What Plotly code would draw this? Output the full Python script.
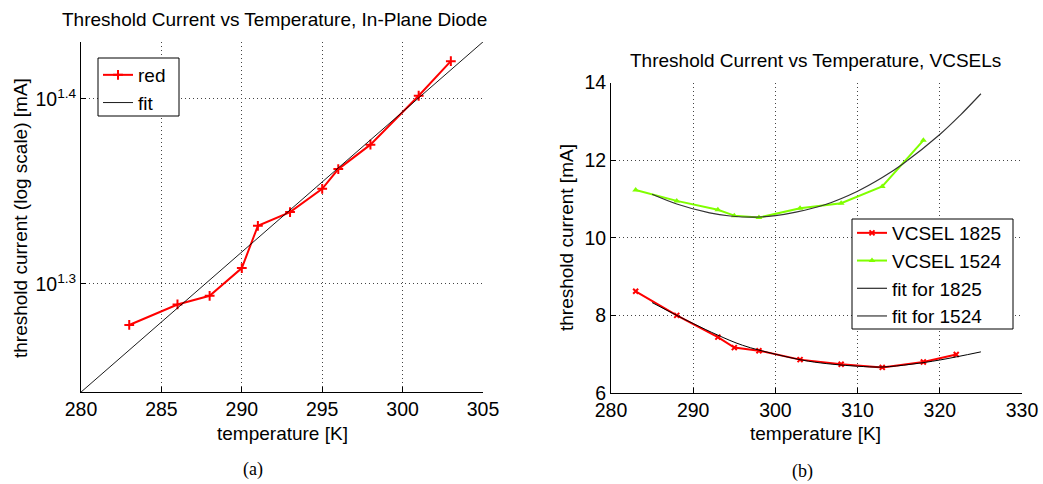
import plotly.graph_objects as go

W, H = 1043, 484

# ---------------- data: panel (a) ----------------
temp_a = [283, 286, 288, 290, 291, 293, 295, 296, 298, 301, 303]
current_a = [18.96, 19.45, 19.66, 20.35, 21.45, 21.82, 22.46, 23.02, 23.73, 25.22, 26.33]
fit_temp_a = [280, 305]
fit_current_a = [17.44, 26.97]
ytick_vals_a = [19.953, 25.119]
ytick_text_a = ["10<sup>1.3</sup>", "10<sup>1.4</sup>"]
xtick_vals_a = [280, 285, 290, 295, 300, 305]

# ---------------- data: panel (b) ----------------
temp_1825 = [283, 288, 293, 295, 298, 303, 308, 313, 318, 322]
current_1825 = [8.62, 8.0, 7.44, 7.17, 7.09, 6.86, 6.74, 6.66, 6.80, 6.99]
temp_1524 = [283, 288, 293, 295, 298, 303, 308, 313, 318]
current_1524 = [11.23, 10.95, 10.72, 10.57, 10.52, 10.76, 10.89, 11.32, 12.51]
fit_temp_1825 = [285, 288, 290, 293, 296, 300, 304, 307, 310, 313, 316.5, 320, 325]
fit_current_1825 = [8.33, 8.0, 7.79, 7.49, 7.23, 7.0, 6.82, 6.74, 6.69, 6.67, 6.74, 6.85, 7.06]
fit_temp_1524 = [285, 288, 292, 294.5, 297.5, 300, 302.5, 306, 310, 313, 315.5, 320, 322.5, 325]
fit_current_1524 = [11.12, 10.87, 10.64, 10.56, 10.53, 10.57, 10.66, 10.85, 11.20, 11.55, 11.90, 12.66, 13.16, 13.71]
xtick_vals_b = [280, 290, 300, 310, 320, 330]
ytick_vals_b = [6, 8, 10, 12, 14]

FONT = "Liberation Sans, Arial, Helvetica, sans-serif"
SERIF = "Liberation Serif, DejaVu Serif, serif"
FS_TICK = 19.5
FS = 19
RED = "#ff0000"
GREEN = "#80ff00"


def px(x):
    return x / W


def py(y):
    return 1 - y / H


fig = go.Figure()

# panel (a)
fig.add_trace(go.Scatter(
    x=temp_a, y=current_a, name="red", mode="lines+markers",
    line=dict(color=RED, width=2),
    marker=dict(symbol="cross-thin", size=7, color=RED, line=dict(color=RED, width=2)),
    xaxis="x", yaxis="y", legend="legend"))
fig.add_trace(go.Scatter(
    x=fit_temp_a, y=fit_current_a, name="fit", mode="lines",
    line=dict(color="#000000", width=0.9),
    xaxis="x", yaxis="y", legend="legend"))

# panel (b)
fig.add_trace(go.Scatter(
    x=temp_1825, y=current_1825, name="VCSEL 1825", mode="lines+markers",
    line=dict(color=RED, width=2),
    marker=dict(symbol="x-thin", size=5, color=RED, line=dict(color=RED, width=2)),
    xaxis="x2", yaxis="y2", legend="legend2"))
fig.add_trace(go.Scatter(
    x=temp_1524, y=current_1524, name="VCSEL 1524", mode="lines+markers",
    line=dict(color=GREEN, width=2),
    marker=dict(symbol="triangle-up", size=6, color=GREEN),
    xaxis="x2", yaxis="y2", legend="legend2"))
fig.add_trace(go.Scatter(
    x=fit_temp_1825, y=fit_current_1825, name="fit for 1825", mode="lines",
    line=dict(color="#000000", width=1, shape="spline"),
    xaxis="x2", yaxis="y2", legend="legend2"))
fig.add_trace(go.Scatter(
    x=fit_temp_1524, y=fit_current_1524, name="fit for 1524", mode="lines",
    line=dict(color="#333333", width=1.2, shape="spline"),
    xaxis="x2", yaxis="y2", legend="legend2"))

axis_common = dict(
    showline=True, linecolor="#000000", linewidth=1,
    ticks="inside", ticklen=5, tickcolor="#000000", tickwidth=1,
    showgrid=True, gridcolor="#444444", gridwidth=1, griddash="1px,3px",
    zeroline=False, tickfont=dict(family=FONT, size=FS_TICK, color="#000000"),
    mirror=False, automargin=False,
)

fig.update_layout(
    width=W, height=H,
    margin=dict(l=0, r=0, t=0, b=0, pad=0, autoexpand=False),
    paper_bgcolor="white", plot_bgcolor="white",
    font=dict(family=FONT, size=FS, color="#000000"),
    xaxis=dict(domain=[px(81), px(483)], range=[280, 305], tickmode="array",
               tickvals=xtick_vals_a, anchor="y", **axis_common),
    yaxis=dict(domain=[py(392), py(42)], type="log", range=[1.2416, 1.4308],
               tickmode="array", tickvals=ytick_vals_a, ticktext=ytick_text_a,
               anchor="x", **axis_common),
    xaxis2=dict(domain=[px(611), px(1022)], range=[280, 330], tickmode="array",
                tickvals=xtick_vals_b, anchor="y2", **axis_common),
    yaxis2=dict(domain=[py(393), py(82.5)], range=[6, 14], tickmode="array",
                tickvals=ytick_vals_b, anchor="x2", **axis_common),
    legend=dict(x=px(98), y=py(56), xanchor="left", yanchor="top",
                bgcolor="rgba(0,0,0,0)", borderwidth=0,
                font=dict(family=FONT, size=19, color="#000000"),
                itemwidth=30, tracegroupgap=0),
    legend2=dict(x=px(852), y=py(214), xanchor="left", yanchor="top",
                 bgcolor="rgba(0,0,0,0)", borderwidth=0,
                 font=dict(family=FONT, size=19, color="#000000"),
                 itemwidth=30, tracegroupgap=0),
    showlegend=True,
    shapes=[
        dict(type="rect", xref="paper", yref="paper", layer="above",
             x0=px(98), x1=px(179), y0=py(116), y1=py(58),
             fillcolor="white", line=dict(color="#000000", width=1)),
        dict(type="rect", xref="paper", yref="paper", layer="above",
             x0=px(852), x1=px(1013), y0=py(329), y1=py(219),
             fillcolor="white", line=dict(color="#000000", width=1)),
    ],
)

annots = [
    dict(text="Threshold Current vs Temperature, In-Plane Diode", x=274, y=20, size=FS, fam=FONT, angle=0),
    dict(text="Threshold Current vs Temperature, VCSELs", x=815, y=61, size=FS, fam=FONT, angle=0),
    dict(text="temperature [K]", x=282, y=433, size=FS, fam=FONT, angle=0),
    dict(text="temperature [K]", x=815, y=433, size=FS, fam=FONT, angle=0),
    dict(text="threshold current (log scale) [mA]", x=21, y=218, size=FS, fam=FONT, angle=-90),
    dict(text="threshold current [mA]", x=566, y=238, size=FS, fam=FONT, angle=-90),
    dict(text="(a)", x=253, y=469, size=18, fam=SERIF, angle=0),
    dict(text="(b)", x=802, y=471, size=18, fam=SERIF, angle=0),
]
fig.update_layout(annotations=[
    dict(text=a["text"], x=px(a["x"]), y=py(a["y"]), xref="paper", yref="paper",
         xanchor="center", yanchor="middle", showarrow=False, textangle=a["angle"],
         font=dict(family=a["fam"], size=a["size"], color="#000000"))
    for a in annots
])

fig.write_html("out.html")
